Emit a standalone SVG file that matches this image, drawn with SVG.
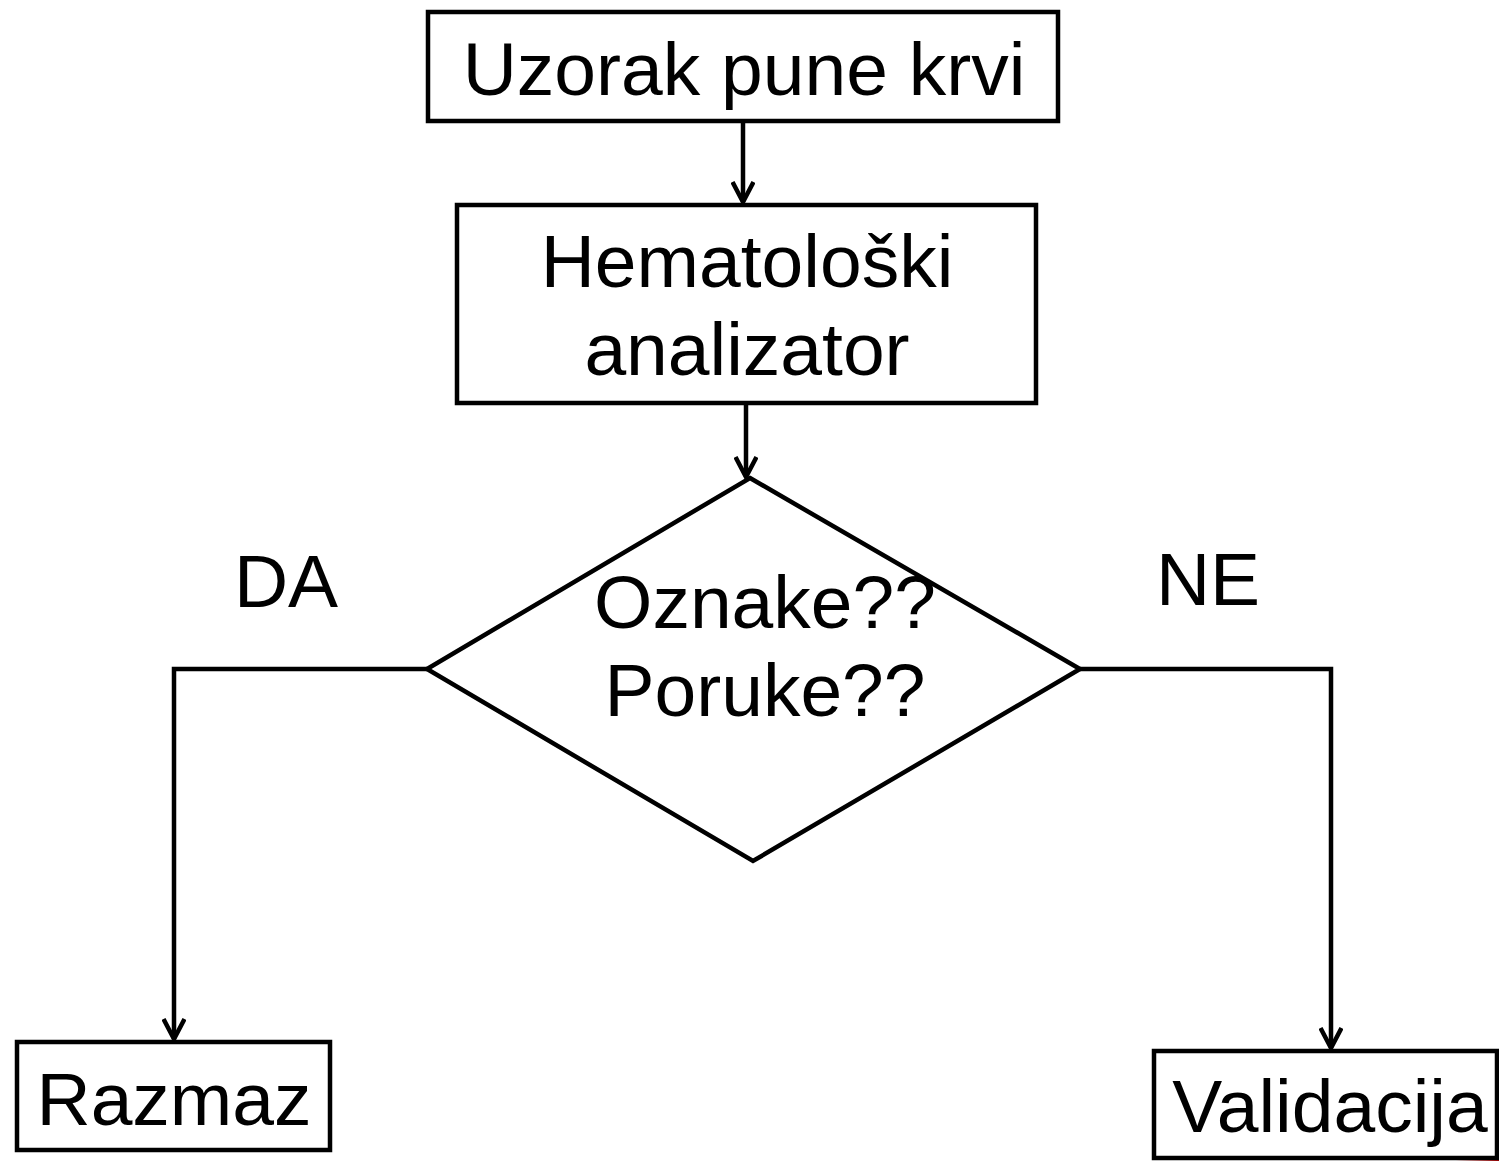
<svg xmlns="http://www.w3.org/2000/svg" width="1499" height="1161" viewBox="0 0 1499 1161">
<defs>
<style>
.box{fill:#fff;stroke:#000;stroke-width:4.5}
.t{font-family:"Liberation Sans",Arial,sans-serif;font-size:75px;fill:#000;text-anchor:middle}
.c{fill:none;stroke:#000;stroke-width:4.5}
</style>
<marker id="ah" viewBox="0 0 24 24" refX="22" refY="12" markerWidth="24" markerHeight="24" markerUnits="userSpaceOnUse" orient="auto">
<path d="M2,1.5 L22,12 L2,22.5" fill="none" stroke="#000" stroke-width="4.5"/>
</marker>
<linearGradient id="rg" x1="0" y1="0" x2="1" y2="0">
<stop offset="0" stop-color="#c00000" stop-opacity="0"/>
<stop offset="1" stop-color="#c00000"/>
</linearGradient>
</defs>
<rect width="1499" height="1161" fill="#fff"/>
<path d="M1455,1161 Q1480,1152 1499,1146 L1499,1161 Z" fill="url(#rg)"/>
<g id="connectors">
<line class="c" x1="743" y1="122" x2="743" y2="202" marker-end="url(#ah)"/>
<line class="c" x1="746" y1="404" x2="746" y2="477" marker-end="url(#ah)"/>
<polyline class="c" points="427,669 174,669 174,1039" marker-end="url(#ah)"/>
<polyline class="c" points="1080,669 1331,669 1331,1048" marker-end="url(#ah)"/>
</g>
<g id="n-uzorak">
<rect class="box" x="428" y="12" width="630" height="109"/>
<text class="t" x="744" y="95">Uzorak pune krvi</text>
</g>
<g id="n-hemat">
<rect class="box" x="457" y="205" width="579" height="198"/>
<text class="t" x="747" y="287">Hematološki</text>
<text class="t" x="747" y="375">analizator</text>
</g>
<g id="n-decision">
<polygon points="750,478 1080,669 753,861 427,669" fill="none" stroke="#000" stroke-width="4.5" stroke-linejoin="miter"/>
<text class="t" x="765" y="628">Oznake??</text>
<text class="t" x="765" y="716">Poruke??</text>
</g>
<g id="labels">
<text class="t" x="286" y="607">DA</text>
<text class="t" x="1208" y="605">NE</text>
</g>
<g id="n-razmaz">
<rect class="box" x="17" y="1042" width="313" height="108"/>
<text class="t" x="174" y="1125">Razmaz</text>
</g>
<g id="n-validacija">
<rect class="box" x="1154" y="1051" width="343" height="107"/>
<text class="t" x="1330" y="1132">Validacija</text>
</g>
</svg>
